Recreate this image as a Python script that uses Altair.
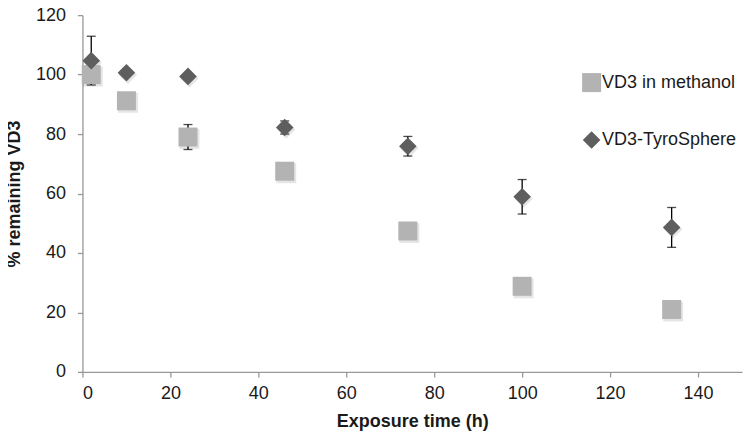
import altair as alt
import pandas as pd

# ---- data ----
hours = [2, 10, 24, 46, 74, 100, 134]
methanol = [100.0, 91.2, 79.0, 67.5, 47.4, 28.8, 21.0]
methanol_err = [0, 0, 4.2, 0, 0, 0, 0]
tyro = [104.7, 100.6, 99.4, 82.2, 75.9, 58.9, 48.6]
tyro_err = [8.2, 0, 0, 2.2, 3.3, 5.8, 6.7]
series_names = ["VD3 in methanol", "VD3-TyroSphere"]
x_ticks = [0, 20, 40, 60, 80, 100, 120, 140]
y_ticks = [0, 20, 40, 60, 80, 100, 120]

rows = []
for name, vals, errs in [(series_names[0], methanol, methanol_err),
                         (series_names[1], tyro, tyro_err)]:
    for h, v, e in zip(hours, vals, errs):
        rows.append({"series": name, "hours": h, "value": v, "err": e,
                     "lo": v - e, "hi": v + e})
df = pd.DataFrame(rows)
err_df = df[df["err"] > 0]

FONT = "Liberation Sans"

x_enc = alt.X("hours:Q", scale=alt.Scale(domain=[0, 150], nice=False),
              axis=alt.Axis(values=x_ticks, title="Exposure time (h)",
                            labelPadding=8, titlePadding=10))
y_enc = alt.Y("value:Q", scale=alt.Scale(domain=[0, 120], nice=False),
              axis=alt.Axis(values=y_ticks, title="% remaining VD3",
                            labelPadding=12, titlePadding=12))

base = alt.Chart(df)

shadow_sq = base.transform_filter(alt.datum.series == series_names[0]).mark_point(
    shape="square", filled=True, color="#000000", opacity=0.10, size=400,
    xOffset=1.5, yOffset=2, strokeWidth=0
).encode(x=x_enc, y=y_enc)

shadow_di = base.transform_filter(alt.datum.series == series_names[1]).mark_point(
    shape="diamond", filled=True, color="#000000", opacity=0.10, size=340,
    xOffset=1.5, yOffset=2, strokeWidth=0
).encode(x=x_enc, y=y_enc)

rules = alt.Chart(err_df).mark_rule(color="#000000", strokeWidth=1.3).encode(
    x="hours:Q", y="lo:Q", y2="hi:Q")
caps_lo = alt.Chart(err_df).mark_tick(color="#000000", orient="horizontal",
                                      size=9, thickness=1.3).encode(
    x="hours:Q", y="lo:Q")
caps_hi = alt.Chart(err_df).mark_tick(color="#000000", orient="horizontal",
                                      size=9, thickness=1.3).encode(
    x="hours:Q", y="hi:Q")

points = base.mark_point(filled=True, opacity=1, strokeWidth=0).encode(
    x=x_enc,
    y=y_enc,
    color=alt.Color("series:N",
                    scale=alt.Scale(domain=series_names, range=["#b3b3b3", "#5e5e5e"]),
                    legend=alt.Legend(title=None, orient="none", legendX=500, legendY=58,
                                      direction="vertical", rowPadding=39,
                                      labelFontSize=18, labelFont=FONT,
                                      labelColor="#1a1a1a", symbolSize=160,
                                      symbolStrokeWidth=0, labelOffset=1,
                                      padding=0, symbolOpacity=1)),
    shape=alt.Shape("series:N",
                    scale=alt.Scale(domain=series_names, range=["square", "diamond"])),
    size=alt.Size("series:N",
                  scale=alt.Scale(domain=series_names, range=[361, 310]),
                  legend=None),
)

chart = alt.layer(shadow_sq, shadow_di, rules, caps_lo, caps_hi, points).properties(
    width=660, height=357,
    autosize=alt.AutoSizeParams(type="none"),
    padding={"left": 74.5, "top": 7, "right": 4, "bottom": 62},
).configure_view(stroke=None).configure_axis(
    grid=False,
    domainColor="#989898", domainWidth=1.3,
    tickColor="#989898", tickSize=5, tickWidth=1.3,
    labelFont=FONT, labelFontSize=18, labelColor="#1a1a1a",
    titleFont=FONT, titleFontSize=18, titleFontWeight="bold", titleColor="#1a1a1a",
)

chart.save("out.html", embed_options={"renderer": "svg", "actions": False})
